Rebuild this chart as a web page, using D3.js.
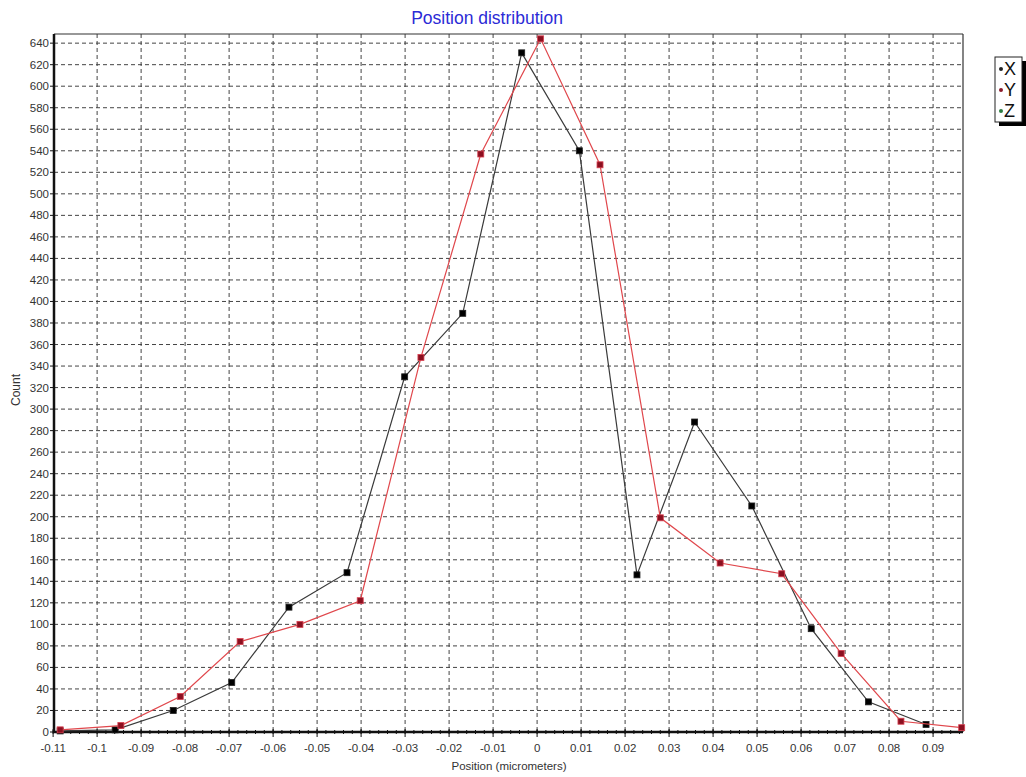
<!DOCTYPE html>
<html>
<head>
<meta charset="utf-8">
<script src="https://cdn.jsdelivr.net/npm/d3@7"></script>
<style>
  body { margin: 0; background: #fff; }
  text { font-family: "Liberation Sans", Arial, sans-serif; }
  .grid line { stroke: #444; stroke-dasharray: 4,3; stroke-width: 1; }
  .tick-label { font-size: 11.5px; fill: #333; }
</style>
</head>
<body>
<svg id="chart" width="1026" height="777"></svg>
<script>
// series X (black)
const xPos = [-0.1084, -0.0959, -0.0827, -0.0694, -0.0564, -0.0432, -0.0301, -0.0169, -0.0035,
              0.0096, 0.0227, 0.0358, 0.0488, 0.0623, 0.0753, 0.0884];
const xCount = [1, 2, 20, 46, 116, 148, 330, 389, 631, 540, 146, 288, 210, 96, 28, 7];
// series Y (red)
const yPos = [-0.1084, -0.0946, -0.0811, -0.0675, -0.0539, -0.0402, -0.0264, -0.0128, 0.0008,
              0.0143, 0.0280, 0.0416, 0.0556, 0.0691, 0.0827, 0.0965];
const yCount = [2, 6, 33, 84, 100, 122, 348, 537, 644, 527, 199, 157, 147, 73, 10, 4];

const xTicks = d3.range(-11, 10).map(d => d / 100);
const yTicks = d3.range(0, 641, 20);
const legendNames = ['X', 'Y', 'Z'];
const legendColors = ['#222', '#8b1a2a', '#2e7d40'];

const svg = d3.select('#chart');
const pLeft = 54, pRight = 963, pTop = 34, pBottom = 732;

const x = d3.scaleLinear().domain([-0.1098, 0.0968]).range([pLeft, pRight]);
const y = d3.scaleLinear().domain([0, 648.5]).range([pBottom, pTop]);

const fmt = d => d === 0 ? '0' : String(+d.toFixed(2));

// grid
const grid = svg.append('g').attr('class', 'grid');
grid.selectAll('.vg')
    .data(xTicks.filter(d => x(d) > pLeft + 2))
    .enter().append('line')
    .attr('x1', d => x(d)).attr('x2', d => x(d))
    .attr('y1', pTop).attr('y2', pBottom);
grid.selectAll('.hg')
    .data(yTicks.filter(d => d > 0))
    .enter().append('line')
    .attr('x1', pLeft).attr('x2', pRight)
    .attr('y1', d => y(d)).attr('y2', d => y(d));

// frame
svg.append('line').attr('x1', pLeft).attr('x2', pRight).attr('y1', pTop).attr('y2', pTop)
   .attr('stroke', '#333').attr('stroke-width', 1.2);
svg.append('line').attr('x1', pRight).attr('x2', pRight).attr('y1', pTop).attr('y2', pBottom)
   .attr('stroke', '#333').attr('stroke-width', 1.2);

// x axis
const xAxis = svg.append('g').attr('transform', `translate(0,${pBottom})`);
xAxis.selectAll('.minor')
     .data(d3.range(-0.11, 0.0968, 0.002))
     .enter().append('line')
     .attr('x1', d => x(d)).attr('x2', d => x(d))
     .attr('y1', -2).attr('y2', 2)
     .attr('stroke', '#111');
xAxis.selectAll('.major')
     .data(xTicks)
     .enter().append('line')
     .attr('x1', d => x(d)).attr('x2', d => x(d))
     .attr('y1', -3).attr('y2', 5)
     .attr('stroke', '#111');
xAxis.selectAll('.xl')
     .data(xTicks)
     .enter().append('text')
     .attr('class', 'tick-label')
     .attr('x', d => x(d))
     .attr('y', 20)
     .attr('text-anchor', 'middle')
     .text(fmt);
xAxis.append('line').attr('x1', pLeft).attr('x2', pRight)
     .attr('stroke', '#111').attr('stroke-width', 2.5);

// y axis
const yAxis = svg.append('g').attr('transform', `translate(${pLeft},0)`);
yAxis.selectAll('.yt')
     .data(yTicks)
     .enter().append('line')
     .attr('x1', -4).attr('x2', 0)
     .attr('y1', d => y(d)).attr('y2', d => y(d))
     .attr('stroke', '#111');
yAxis.selectAll('.yl')
     .data(yTicks)
     .enter().append('text')
     .attr('class', 'tick-label')
     .attr('x', -5)
     .attr('y', d => y(d) + 4)
     .attr('text-anchor', 'end')
     .text(d => d);
yAxis.append('line').attr('y1', pTop).attr('y2', pBottom + 1)
     .attr('stroke', '#111').attr('stroke-width', 2.5);

// titles
svg.append('text')
   .attr('x', 487).attr('y', 24)
   .attr('text-anchor', 'middle')
   .attr('font-size', 17.5).attr('fill', '#2b2bd6')
   .text('Position distribution');
svg.append('text')
   .attr('x', 509).attr('y', 770)
   .attr('text-anchor', 'middle')
   .attr('font-size', 11.5).attr('fill', '#333')
   .text('Position (micrometers)');
svg.append('text')
   .attr('transform', 'translate(20,390) rotate(-90)')
   .attr('text-anchor', 'middle')
   .attr('font-size', 12).attr('fill', '#333')
   .text('Count');

// series
const line = d3.line().x(d => x(d[0])).y(d => y(d[1]));
function drawSeries(pos, cnt, stroke, fill, mstroke) {
  const pts = pos.map((p, i) => [p, cnt[i]]);
  svg.append('path')
     .datum(pts)
     .attr('d', line)
     .attr('fill', 'none')
     .attr('stroke', stroke)
     .attr('stroke-width', 1.2);
  svg.selectAll(null)
     .data(pts)
     .enter().append('rect')
     .attr('x', d => x(d[0]) - 3)
     .attr('y', d => y(d[1]) - 3)
     .attr('width', 6).attr('height', 6)
     .attr('fill', fill)
     .attr('stroke', mstroke)
     .attr('stroke-width', 0.8);
}
drawSeries(xPos, xCount, '#3a3a3a', '#000', '#222');
drawSeries(yPos, yCount, '#e0474c', '#8b1020', '#d84050');

// legend
const lg = svg.append('g').attr('transform', 'translate(995,57)');
lg.append('rect').attr('x', 4).attr('y', 4).attr('width', 27).attr('height', 65).attr('fill', '#000');
lg.append('rect').attr('width', 27).attr('height', 65).attr('fill', '#fff')
  .attr('stroke', '#222').attr('stroke-width', 1);
lg.selectAll('.ld')
  .data(legendNames)
  .enter().append('circle')
  .attr('cx', 6).attr('cy', (d, i) => 12 + i * 21)
  .attr('r', 2)
  .attr('fill', (d, i) => legendColors[i]);
lg.selectAll('.lt')
  .data(legendNames)
  .enter().append('text')
  .attr('x', 9).attr('y', (d, i) => 18 + i * 21)
  .attr('font-size', 18).attr('fill', '#111')
  .text(d => d);
</script>
</body>
</html>
